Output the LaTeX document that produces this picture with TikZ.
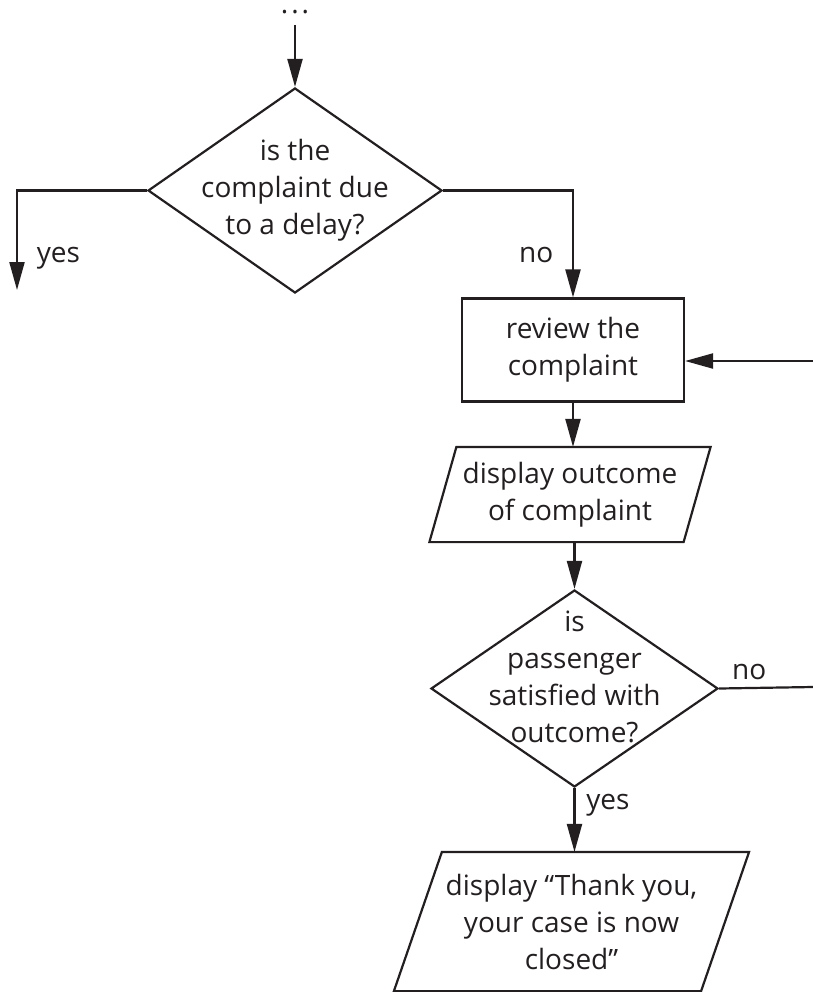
\documentclass[tikz,border=0pt]{standalone}
\usepackage{fontspec}
\setmainfont{Open Sans}
\usetikzlibrary{shapes.geometric,arrows.meta,calc}
\definecolor{ink}{HTML}{231F20}
\tikzset{>={Triangle[length=14pt,width=7.5pt]}}
% slanted outline round an input/output node
\newcommand\slantbox[2]{%
  \draw ($(#1.north west)+(#2,0)$) -- ($(#1.north east)+(#2,0)$)
    -- ($(#1.south east)-(#2,0)$) -- ($(#1.south west)-(#2,0)$) -- cycle;}

\begin{document}
\begin{tikzpicture}[x=.5pt,y=-.5pt,line width=1.1pt,color=ink,
  font=\fontsize{14}{18.5}\selectfont,
  txt/.style={align=center,inner sep=0pt},
  decision/.style={draw,diamond,inner sep=0pt},
  procbox/.style={draw,rectangle,align=center,minimum width=111pt,minimum height=51.5pt},
  iobox/.style={rectangle,align=center,inner sep=0pt}]
\useasboundingbox (0,0) rectangle (813,992);
\node[inner sep=0pt] (dots) at (295,12) {.\kern1.5pt.\kern1.5pt.};
\node[decision,minimum width=147pt,minimum height=102.5pt] (q1) at (295,190.5) {};
\node[txt] (q1t) at (q1) {is the\\complaint due\\to a delay?};
\node[procbox] (rev) at (573,350) {review the\\complaint};
\node[iobox,minimum width=126pt,minimum height=46.5pt] (out1) at (570,494.5) {display outcome\\of complaint};
\slantbox{out1}{13.5}
\node[decision,minimum width=143.5pt,minimum height=98.5pt] (q2) at (574.5,688.5) {};
\node[txt,yshift=6pt] (q2t) at (q2) {is\\passenger\\satisfied with\\outcome?};
\node[iobox,minimum width=152.5pt,minimum height=68.5pt] (out2) at (571.5,921.5) {display “Thank you,\\your case is now\\closed”};
\slantbox{out2}{24}
\coordinate (yesend) at (17,290);
\coordinate (back) at (813,361);
\coordinate (noend) at (813,687);
\draw[->] ([yshift=-5pt]dots.south) -- (q1.north);
\draw[->] (q1.west) -| node[pos=.84,right=6pt] (yes1) {yes} (yesend);
\draw[->] (q1.east) -| node[pos=.8,left=6pt] (no1) {no} (rev.north);
\draw[->] (back) -- (back -| rev.east);
\draw[->] (rev.south) -- (rev.south |- out1.north);
\draw[->] (q2.north |- out1.south) -- (q2.north);
\draw (q2.east) -- node[pos=.32,above] (no2) {no} (noend);
\draw[->] (q2.south) -- node[pos=.27,right=2pt] (yes2) {yes} (q2.south |- out2.north);
\end{tikzpicture}
\end{document}
